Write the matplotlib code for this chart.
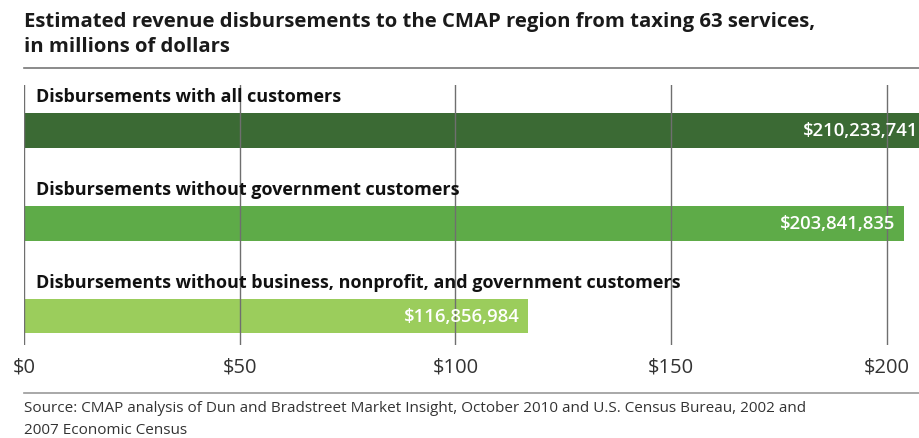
import matplotlib
matplotlib.use("Agg")
import matplotlib.pyplot as plt
from matplotlib.lines import Line2D

categories = [
    "Disbursements with all customers",
    "Disbursements without government customers",
    "Disbursements without business, nonprofit, and government customers",
]
values = [210.233741, 203.841835, 116.856984]
value_labels = ["$210,233,741", "$203,841,835", "$116,856,984"]
colors = ["#3b6a34", "#5eab48", "#9bcd5c"]
ticks = [0, 50, 100, 150, 200]
tick_labels = ["$0", "$50", "$100", "$150", "$200"]

W, H = 920, 438
fig = plt.figure(figsize=(W / 100, H / 100), dpi=100)
FONT = "Open Sans"

def fx(px):
    return px / W

def fy(py):
    return 1 - py / H

ax_left, ax_right, ax_top, ax_bot = 24, 920, 85, 345
ax = fig.add_axes([fx(ax_left), fy(ax_bot), fx(ax_right - ax_left), (ax_bot - ax_top) / H])
ypos = list(range(len(categories)))
ax.barh(ypos, values, height=0.37, color=colors, zorder=1)
xmax = (ax_right - ax_left) / 4.315
ax.set_xlim(0, xmax)
ax.set_ylim(2.31, -0.49)
for t in ticks:
    ax.axvline(t, color="#6f6f6f", lw=1.0, zorder=3)
for s in ax.spines.values():
    s.set_visible(False)
ax.set_xticks([])
ax.set_yticks([])

for y, cat, v, lab in zip(ypos, categories, values, value_labels):
    ax.text(2.8, y - 0.36, cat, fontsize=13, fontweight="bold", family=FONT,
            color="#111111", va="center", ha="left", zorder=4)
    xr = v - 1.9 if v < xmax else xmax - 0.4
    ax.text(xr, y + 0.01, lab, fontsize=13.3, family=FONT, fontweight="semibold",
            color="white", va="center", ha="right", zorder=4)

# tick labels
for t, tl in zip(ticks, tick_labels):
    ax.text(t, 2.31 + 0.24, tl, fontsize=14.5, family=FONT, color="#333333",
            ha="center", va="center", clip_on=False)

# title
fig.text(fx(24), fy(22), "Estimated revenue disbursements to the CMAP region from taxing 63 services,",
         fontsize=14.6, fontweight="bold", family=FONT, color="#1a1a1a", va="center", ha="left")
fig.text(fx(24), fy(47), "in millions of dollars",
         fontsize=14.6, fontweight="bold", family=FONT, color="#1a1a1a", va="center", ha="left")

# rules
fig.add_artist(Line2D([fx(24), fx(920)], [fy(68), fy(68)], color="#777777", lw=1.2, transform=fig.transFigure))
fig.add_artist(Line2D([fx(24), fx(920)], [fy(393), fy(393)], color="#999999", lw=1.2, transform=fig.transFigure))

# source
fig.text(fx(24), fy(408), "Source: CMAP analysis of Dun and Bradstreet Market Insight, October 2010 and U.S. Census Bureau, 2002 and",
         fontsize=11, family=FONT, color="#333333", va="center", ha="left")
fig.text(fx(24), fy(430), "2007 Economic Census",
         fontsize=11, family=FONT, color="#333333", va="center", ha="left")

fig.savefig("out.png", dpi=100)
